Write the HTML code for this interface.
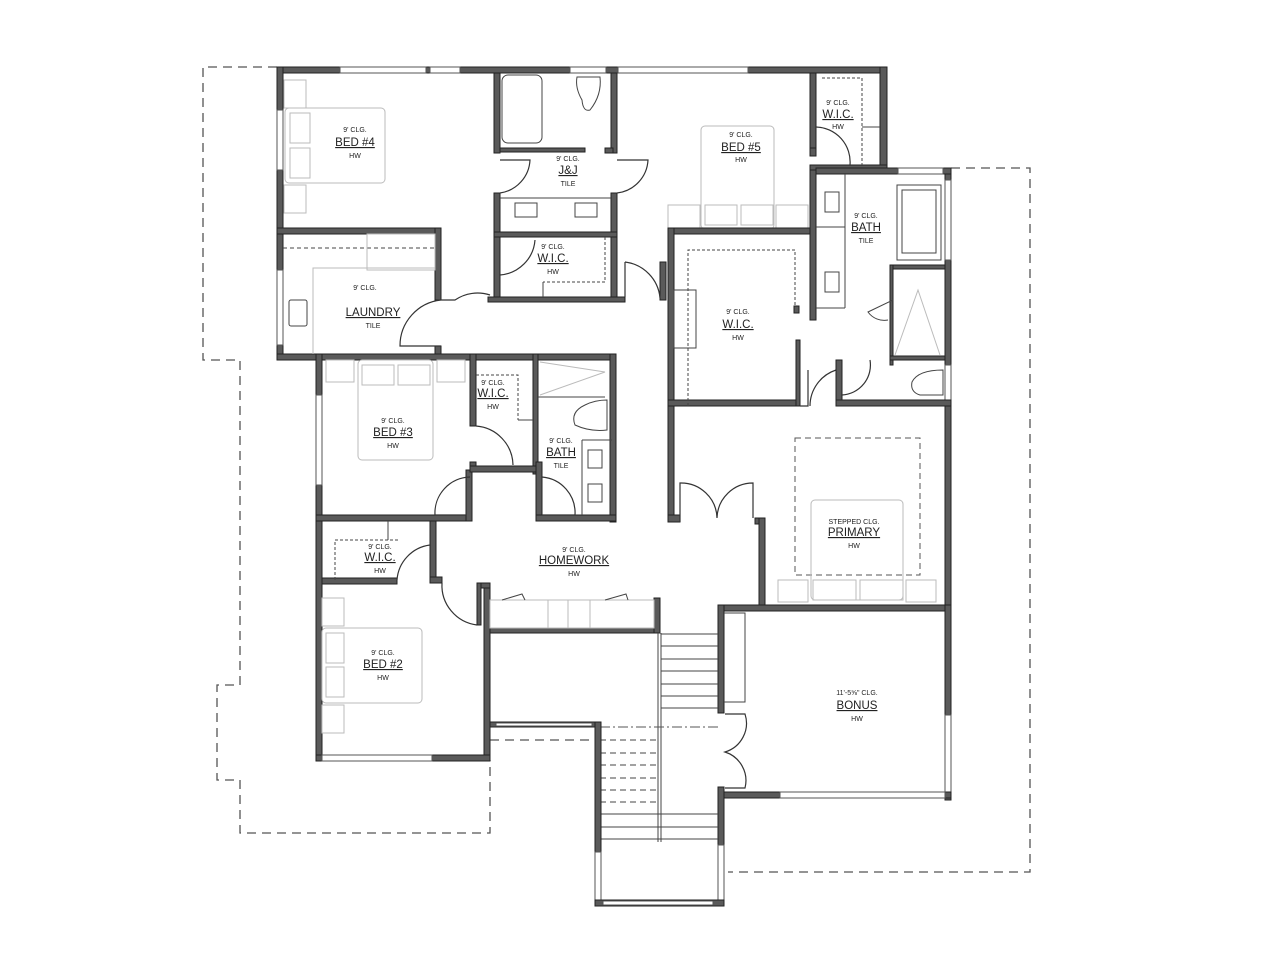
<!DOCTYPE html>
<html><head><meta charset="utf-8"><style>
html,body{margin:0;padding:0;background:#fff;}
svg{display:block}
.w{fill:#5a5a5a;stroke:#222;stroke-width:1}
.d{fill:none;stroke:#333;stroke-width:1.2}
.f{fill:none;stroke:#bbb;stroke-width:1}
.fx{fill:none;stroke:#444;stroke-width:1}
.da{fill:none;stroke:#555;stroke-width:1.3;stroke-dasharray:9,6}
.win{fill:#fff;stroke:#555;stroke-width:1}
text{font-family:"Liberation Sans",sans-serif;fill:#222;text-anchor:middle}
.s{font-size:7px}
.n{font-size:11.5px;text-decoration:underline}
</style></head><body>
<svg width="1280" height="960" viewBox="0 0 1280 960">
<!-- dashed outlines -->
<polyline class="da" points="277,67 203,67 203,360 240,360 240,685 217,685 217,780 240,780 240,833 490,833 490,760"/>
<polyline class="da" points="951,168 1030,168 1030,872 728,872"/>
<line class="da" x1="490" y1="740" x2="600" y2="740"/>

<!-- top exterior wall with windows -->
<rect class="w" x="277" y="67" width="610" height="6"/>
<rect class="win" x="340" y="67" width="86" height="6"/>
<rect class="win" x="430" y="67" width="30" height="6"/>
<rect class="win" x="570" y="67" width="36" height="6"/>
<rect class="win" x="618" y="67" width="130" height="6"/>
<!-- bed4 / laundry -->
<rect class="w" x="277" y="67" width="6" height="293"/>
<rect class="win" x="277" y="110" width="6" height="60"/>
<rect class="win" x="277" y="270" width="6" height="75"/>
<rect class="w" x="277" y="228" width="164" height="6"/>
<rect class="w" x="435" y="228" width="6" height="72"/>
<rect class="w" x="435" y="346" width="6" height="14"/>
<rect class="w" x="277" y="354" width="339" height="6"/>
<path class="d" d="M441,300 L455,300 A40,40 0 0 1 490,295" />
<path class="d" d="M441,346 L400,346 A46,46 0 0 1 441,300"/>
<!-- laundry fixtures -->
<line class="fx" x1="283" y1="248" x2="435" y2="248" stroke-dasharray="4,3"/>
<polyline class="f" points="313,354 313,268 435,268"/>
<rect class="f" x="367" y="234" width="68" height="36"/>
<rect class="fx" x="289" y="300" width="18" height="26" rx="2"/>
<!-- bed4 bed -->
<rect class="f" x="285" y="108" width="100" height="75" rx="4"/>
<rect class="f" x="290" y="113" width="20" height="30"/>
<rect class="f" x="290" y="148" width="20" height="30"/>
<rect class="f" x="284" y="80" width="22" height="28"/>
<rect class="f" x="284" y="185" width="22" height="28"/>
<text class="s" x="355" y="132">9' CLG.</text>
<text class="n" x="355" y="146">BED  #4</text>
<text class="s" x="355" y="158">HW</text>
<text class="s" x="365" y="290">9' CLG.</text>
<text class="n" x="373" y="316">LAUNDRY</text>
<text class="s" x="373" y="328">TILE</text>

<!-- J&J -->
<rect class="w" x="494" y="73" width="6" height="80"/>
<rect class="w" x="494" y="193" width="6" height="107"/>
<rect class="w" x="611" y="73" width="6" height="80"/>
<rect class="w" x="611" y="193" width="6" height="107"/>
<rect class="w" x="500" y="148" width="85" height="4"/>
<rect class="w" x="605" y="148" width="8" height="5"/>
<rect class="w" x="494" y="232" width="123" height="5"/>
<rect class="w" x="488" y="297" width="137" height="5"/>
<rect class="fx" x="502" y="75" width="40" height="68" rx="6"/>
<path class="fx" d="M577,77 L600,77 Q602,95 590,110 Q583,112 582,100 Q575,88 577,77Z"/>
<path class="d" d="M500,193 A35,35 0 0 0 530,160 L500,160"/>
<path class="d" d="M617,193 A35,35 0 0 0 648,160 L617,160"/>
<line class="fx" x1="500" y1="198" x2="611" y2="198"/>
<rect class="fx" x="515" y="203" width="22" height="14"/>
<rect class="fx" x="575" y="203" width="22" height="14"/>
<text class="s" x="568" y="161">9' CLG.</text>
<text class="n" x="568" y="174">J&amp;J</text>
<text class="s" x="568" y="186">TILE</text>
<!-- small WIC -->
<rect class="w" x="494" y="237" width="6" height="60"/>
<path class="d" d="M500,275 A38,38 0 0 0 535,240"/>
<polyline class="fx" points="605,237 605,282 543,282" stroke-dasharray="3,2"/>
<line class="fx" x1="543" y1="282" x2="543" y2="297"/>
<text class="s" x="553" y="249">9' CLG.</text>
<text class="n" x="553" y="262">W.I.C.</text>
<text class="s" x="553" y="274">HW</text>
<!-- hallway door at bed5 -->
<rect class="w" x="660" y="262" width="6" height="38"/>
<path class="d" d="M625,262 L625,297 M625,262 A40,40 0 0 1 660,298"/>

<!-- Bed5 -->
<rect class="w" x="810" y="73" width="6" height="75"/>
<rect class="w" x="880" y="67" width="7" height="105"/>
<rect class="w" x="810" y="165" width="77" height="6"/>
<rect class="w" x="810" y="148" width="6" height="8"/>
<path class="d" d="M816,127 A35,35 0 0 1 850,165"/>
<polyline class="fx" points="822,78 862,78 862,165" stroke-dasharray="3,2"/>
<line class="fx" x1="862" y1="127" x2="880" y2="127"/>
<text class="s" x="838" y="105">9' CLG.</text>
<text class="n" x="838" y="118">W.I.C.</text>
<text class="s" x="838" y="129">HW</text>
<rect class="f" x="701" y="126" width="73" height="103" rx="4"/>
<rect class="f" x="705" y="205" width="32" height="20"/>
<rect class="f" x="741" y="205" width="32" height="20"/>
<rect class="f" x="668" y="205" width="32" height="24"/>
<rect class="f" x="776" y="205" width="32" height="24"/>
<text class="s" x="741" y="137">9' CLG.</text>
<text class="n" x="741" y="151">BED  #5</text>
<text class="s" x="741" y="162">HW</text>

<!-- primary WIC -->
<rect class="w" x="668" y="228" width="148" height="6"/>
<rect class="w" x="668" y="228" width="6" height="294"/>
<rect class="w" x="668" y="400" width="132" height="6"/>
<rect class="w" x="794" y="306" width="5" height="7"/>
<rect class="w" x="796" y="340" width="4" height="66"/>
<polyline class="fx" points="688,406 688,250 795,250 795,306" stroke-dasharray="3,2"/>
<rect class="fx" x="674" y="290" width="22" height="58" fill="#fff"/>
<text class="s" x="738" y="314">9' CLG.</text>
<text class="n" x="738" y="328">W.I.C.</text>
<text class="s" x="738" y="340">HW</text>
<path class="d" d="M800,406 L808,406 L808,370 M810,406 A38,38 0 0 1 836,370"/>

<!-- Primary bath -->
<rect class="w" x="810" y="170" width="6" height="150"/>
<rect class="w" x="945" y="168" width="6" height="440"/>
<rect class="win" x="945" y="180" width="6" height="80"/>
<rect class="win" x="945" y="365" width="6" height="35"/>
<rect class="w" x="816" y="168" width="135" height="6"/>
<rect class="win" x="898" y="168" width="45" height="6"/>
<rect class="w" x="890" y="265" width="55" height="4"/>
<rect class="w" x="890" y="265" width="3" height="100"/>
<rect class="w" x="890" y="356" width="55" height="4"/>
<rect class="w" x="836" y="360" width="6" height="46"/>
<rect class="w" x="836" y="400" width="115" height="6"/>
<rect class="fx" x="897" y="185" width="44" height="75"/>
<rect class="fx" x="902" y="190" width="34" height="63"/>
<line class="fx" x1="816" y1="227" x2="845" y2="227"/>
<line class="fx" x1="845" y1="174" x2="845" y2="308"/>
<line class="fx" x1="816" y1="308" x2="845" y2="308"/>
<rect class="fx" x="825" y="192" width="14" height="20"/>
<rect class="fx" x="825" y="272" width="14" height="20"/>
<path class="fx" d="M893,300 L868,312 A20,20 0 0 0 888,320"/>
<polyline class="f" points="895,355 918,290 940,355"/>
<path class="fx" d="M943,370 L943,395 L920,395 Q910,392 912,382 Q918,370 943,370Z"/>
<path class="d" d="M842,395 A30,30 0 0 0 870,360"/>
<text class="s" x="866" y="218">9' CLG.</text>
<text class="n" x="866" y="231">BATH</text>
<text class="s" x="866" y="243">TILE</text>

<!-- Primary -->
<rect class="w" x="668" y="515" width="12" height="7"/>
<rect class="w" x="755" y="518" width="10" height="6"/>
<rect class="w" x="759" y="518" width="6" height="90"/>
<path class="d" d="M680,522 L680,483 A36,36 0 0 1 717,518 A36,36 0 0 1 753,483 L753,518"/>
<rect class="da" x="795" y="438" width="125" height="137" style="stroke-dasharray:6,4;stroke-width:1"/>
<rect class="f" x="811" y="500" width="92" height="100" rx="4"/>
<rect class="f" x="778" y="580" width="30" height="22"/>
<rect class="f" x="813" y="580" width="43" height="20"/>
<rect class="f" x="860" y="580" width="43" height="20"/>
<rect class="f" x="906" y="580" width="30" height="22"/>
<text class="s" x="854" y="524">STEPPED CLG.</text>
<text class="n" x="854" y="536">PRIMARY</text>
<text class="s" x="854" y="548">HW</text>

<!-- Bonus -->
<rect class="w" x="718" y="605" width="233" height="6"/>
<rect class="w" x="718" y="605" width="6" height="108"/>
<rect class="w" x="718" y="787" width="6" height="118"/>
<rect class="w" x="945" y="605" width="6" height="195"/>
<rect class="win" x="945" y="715" width="6" height="80"/>
<rect class="w" x="724" y="792" width="227" height="6"/>
<rect class="win" x="780" y="792" width="165" height="6"/>
<polyline class="fx" points="724,613 745,613 745,702 724,702"/>
<path class="d" d="M725,714 L745,714 A30,30 0 0 1 725,752 A30,30 0 0 1 745,788 L725,788"/>
<text class="s" x="857" y="695">11'-5⅝" CLG.</text>
<text class="n" x="857" y="709">BONUS</text>
<text class="s" x="857" y="721">HW</text>

<!-- Bed3 -->
<rect class="w" x="316" y="354" width="6" height="167"/>
<rect class="win" x="316" y="395" width="6" height="90"/>
<rect class="w" x="316" y="515" width="156" height="6"/>
<rect class="w" x="466" y="470" width="6" height="51"/>
<rect class="w" x="470" y="354" width="6" height="72"/>
<rect class="w" x="470" y="462" width="6" height="10"/>
<rect class="w" x="533" y="354" width="5" height="120"/>
<rect class="w" x="470" y="466" width="68" height="6"/>
<rect class="w" x="536" y="462" width="6" height="59"/>
<rect class="w" x="610" y="354" width="6" height="168"/>
<rect class="w" x="536" y="515" width="80" height="6"/>
<path class="d" d="M476,426 A40,40 0 0 1 513,465"/>
<polyline class="fx" points="476,375 518,375 518,420" stroke-dasharray="3,2"/>
<line class="fx" x1="518" y1="420" x2="533" y2="420"/>
<path class="d" d="M466,515 L435,515 A36,36 0 0 1 470,477"/>
<path class="d" d="M542,515 L575,515 A36,36 0 0 0 542,477"/>
<rect class="f" x="358" y="360" width="75" height="100" rx="4"/>
<rect class="f" x="362" y="365" width="32" height="20"/>
<rect class="f" x="398" y="365" width="32" height="20"/>
<rect class="f" x="326" y="360" width="28" height="22"/>
<rect class="f" x="437" y="360" width="28" height="22"/>
<text class="s" x="393" y="423">9' CLG.</text>
<text class="n" x="393" y="436">BED  #3</text>
<text class="s" x="393" y="448">HW</text>
<text class="s" x="493" y="385">9' CLG.</text>
<text class="n" x="493" y="397">W.I.C.</text>
<text class="s" x="493" y="409">HW</text>
<polyline class="fx" points="538,397 605,397"/>
<polyline class="f" points="540,362 605,372 540,395"/>
<path class="fx" d="M607,400 L607,430 Q590,432 575,425 Q570,412 585,405 Q595,400 607,400Z"/>
<line class="fx" x1="582" y1="440" x2="612" y2="440"/>
<line class="fx" x1="582" y1="440" x2="582" y2="515"/>
<rect class="fx" x="588" y="450" width="14" height="18"/>
<rect class="fx" x="588" y="484" width="14" height="18"/>
<text class="s" x="561" y="443">9' CLG.</text>
<text class="n" x="561" y="456">BATH</text>
<text class="s" x="561" y="468">TILE</text>

<!-- Bed2 / WIC -->
<rect class="w" x="316" y="521" width="6" height="240"/>
<rect class="w" x="322" y="578" width="75" height="6"/>
<rect class="w" x="430" y="521" width="6" height="62"/>
<rect class="w" x="430" y="577" width="12" height="6"/>
<rect class="w" x="484" y="583" width="6" height="178"/>
<rect class="w" x="477" y="583" width="13" height="5"/>
<rect class="w" x="477" y="583" width="4" height="42"/>
<rect class="w" x="316" y="755" width="174" height="6"/>
<rect class="win" x="322" y="755" width="110" height="6"/>
<polyline class="fx" points="335,580 335,540 400,540" stroke-dasharray="3,2"/>
<line class="fx" x1="388" y1="521" x2="388" y2="540"/>
<path class="d" d="M397,580 A38,38 0 0 1 430,545"/>
<path class="d" d="M442,583 A40,40 0 0 0 477,625"/>
<text class="s" x="380" y="549">9' CLG.</text>
<text class="n" x="380" y="561">W.I.C.</text>
<text class="s" x="380" y="573">HW</text>
<rect class="f" x="322" y="628" width="100" height="75" rx="4"/>
<rect class="f" x="326" y="633" width="18" height="30"/>
<rect class="f" x="326" y="667" width="18" height="30"/>
<rect class="f" x="322" y="598" width="22" height="28"/>
<rect class="f" x="322" y="705" width="22" height="28"/>
<text class="s" x="383" y="655">9' CLG.</text>
<text class="n" x="383" y="668">BED  #2</text>
<text class="s" x="383" y="680">HW</text>

<!-- Homework -->
<text class="s" x="574" y="552">9' CLG.</text>
<text class="n" x="574" y="564">HOMEWORK</text>
<text class="s" x="574" y="576">HW</text>
<rect class="w" x="490" y="628" width="170" height="5"/>
<rect class="w" x="654" y="598" width="6" height="35"/>
<rect class="f" x="490" y="600" width="164" height="28"/>
<line class="f" x1="548" y1="600" x2="548" y2="628"/>
<line class="f" x1="568" y1="600" x2="568" y2="628"/>
<line class="f" x1="590" y1="600" x2="590" y2="628"/>
<path class="fx" d="M502,600 L522,594 L525,600 M605,600 L626,594 L628,600"/>

<!-- Stairs -->
<line class="fx" x1="658" y1="633" x2="658" y2="842"/>
<line class="fx" x1="661" y1="633" x2="661" y2="842"/>
<g stroke="#444" stroke-width="1">
<line x1="661" y1="634" x2="718" y2="634"/><line x1="661" y1="646" x2="718" y2="646"/>
<line x1="661" y1="659" x2="718" y2="659"/><line x1="661" y1="671" x2="718" y2="671"/>
<line x1="661" y1="684" x2="718" y2="684"/><line x1="661" y1="696" x2="718" y2="696"/>
<line x1="661" y1="708" x2="718" y2="708"/>
<line x1="600" y1="814" x2="718" y2="814"/><line x1="600" y1="827" x2="718" y2="827"/>
<line x1="600" y1="839" x2="718" y2="839"/>
</g>
<g stroke="#444" stroke-width="1" stroke-dasharray="6,4">
<line x1="600" y1="740" x2="658" y2="740"/><line x1="600" y1="753" x2="658" y2="753"/>
<line x1="600" y1="765" x2="658" y2="765"/><line x1="600" y1="778" x2="658" y2="778"/>
<line x1="600" y1="790" x2="658" y2="790"/><line x1="600" y1="802" x2="658" y2="802"/>
</g>
<line x1="600" y1="727" x2="718" y2="727" stroke="#555" stroke-dasharray="10,3,2,3"/>
<rect class="w" x="490" y="722" width="110" height="5"/>
<rect class="win" x="496" y="723" width="96" height="3"/>
<rect class="w" x="595" y="722" width="6" height="130"/>
<rect class="win" x="595" y="852" width="6" height="50"/>
<rect class="win" x="718" y="845" width="6" height="55"/>
<rect class="w" x="595" y="900" width="129" height="6"/>
<rect class="win" x="603" y="901" width="110" height="4"/>
</svg>
</body></html>
